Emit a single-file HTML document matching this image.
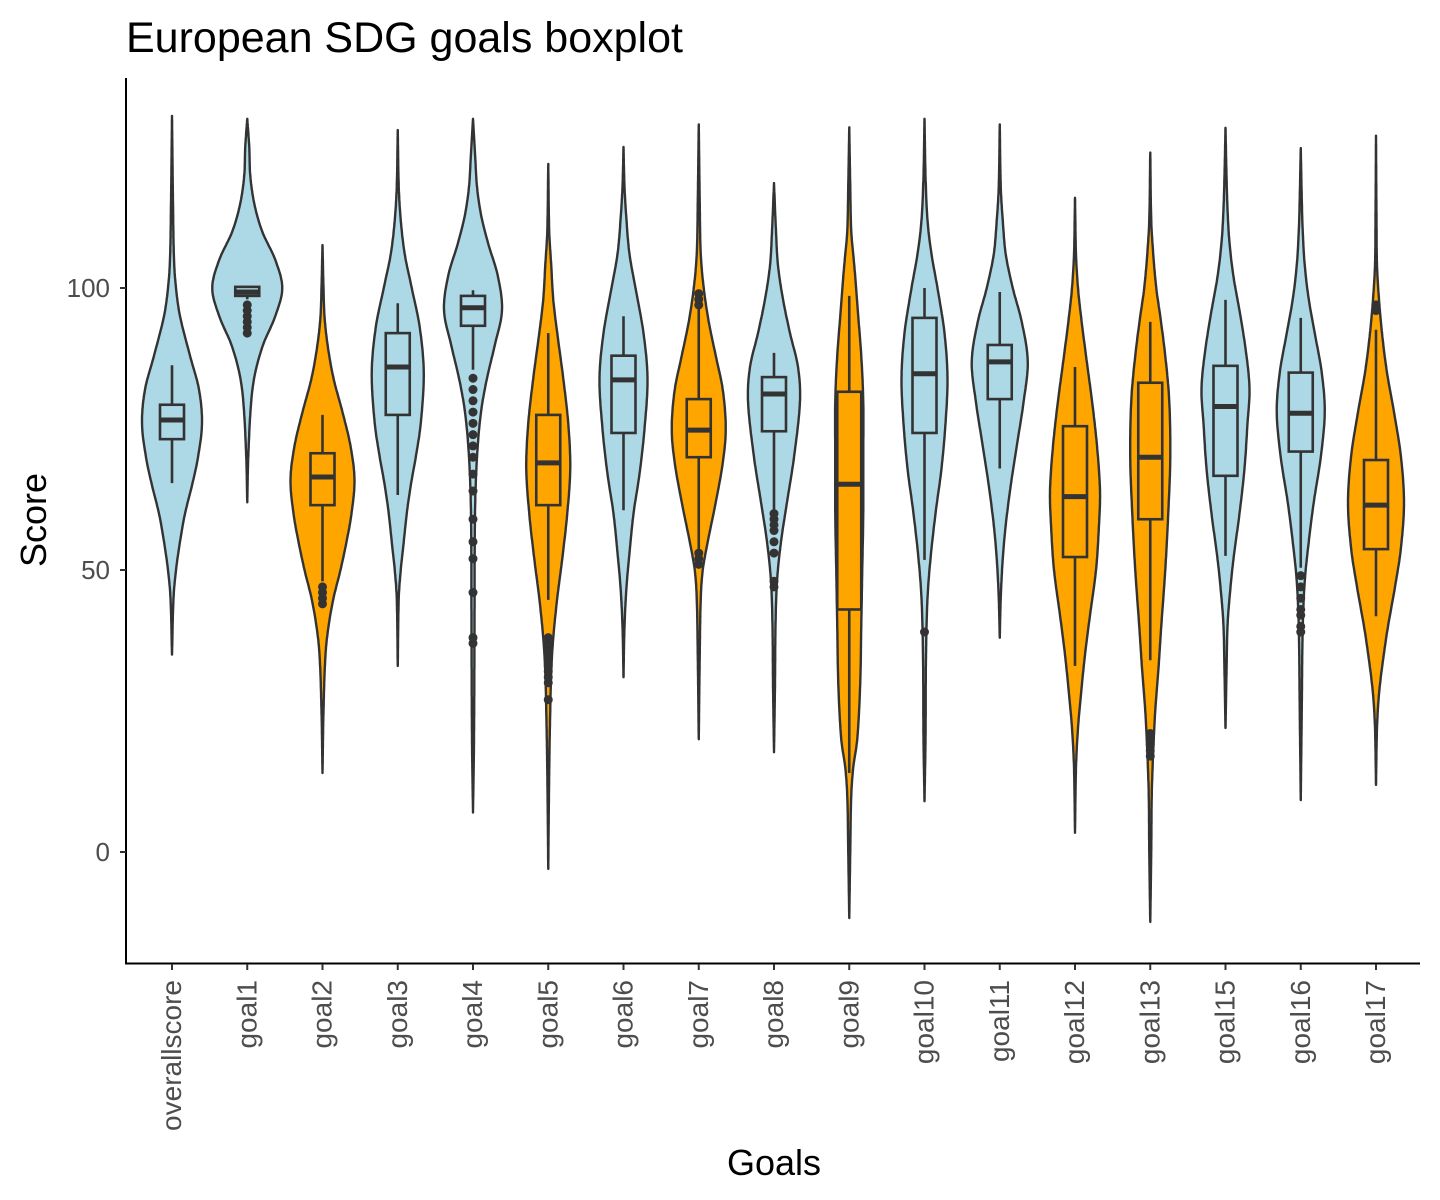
<!DOCTYPE html>
<html><head><meta charset="utf-8"><style>
body{margin:0;background:#fff;}
svg{display:block;font-family:"Liberation Sans",sans-serif;}
</style></head><body>
<svg id="chart" width="1440" height="1200">
<text x="126" y="52" font-size="43" fill="#000">European SDG goals boxplot</text>
<g id="plot"></g>
<line x1="126" y1="78" x2="126" y2="964" stroke="#000" stroke-width="2"/>
<line x1="125" y1="963.5" x2="1420" y2="963.5" stroke="#000" stroke-width="2"/>
<g id="yticks"></g>
<g id="xticks"></g>
<text transform="translate(46,520) rotate(-90)" text-anchor="middle" font-size="36" fill="#000">Score</text>
<text x="774" y="1175" text-anchor="middle" font-size="36" fill="#000">Goals</text>
</svg>
<script>
const categories=["overallscore","goal1","goal2","goal3","goal4","goal5","goal6","goal7","goal8","goal9","goal10","goal11","goal12","goal13","goal15","goal16","goal17"];
const highlight=[0,0,1,0,0,1,0,1,0,1,0,0,1,1,0,0,1];
const yTicks=[0,50,100];
// box stats: [whiskerLow, q1, median, q3, whiskerHigh]
const boxStats=[
[65.4,73.2,76.6,79.3,86.3],[98,98.6,99.3,100.2,100.4],[48,61.5,66.5,70.7,77.5],[63.3,77.5,86,92,97.3],
[85.5,93.3,96.5,98.6,99.6],[44.7,61.5,69,77.5,92],[60.6,74.3,83.7,88,95],[52.7,70,74.8,80.3,97.9],
[60.6,74.6,81.2,84.2,88.5],[14,43,65.2,81.6,98.6],[51.8,74.3,84.8,94.7,100],[68,80.3,86.9,89.9,99.3],
[33,52.3,63,75.5,86],[34,59,70,83.2,94],[52.5,66.7,79,86.2,97.9],[50.4,71,77.8,85,94.7],[41.8,53.7,61.5,69.5,92.6]];
// violin density knots: [score, relative half-width px]
const violins=[
[[35,0],[45,1.5],[50,4],[55,8],[60,13],[65,20],[70,26],[76,30],[82,27],[88,18],[95,8],[100,4],[105,2],[115,1],[130.5,0]],
[[62,0],[70,1],[80,4],[85,8],[90,16],[95,28],[100,35],[105,28],[110,15],[115,7],[120,3],[125,2],[130,0]],
[[14,0],[25,1],[35,3],[40,6],[45,11],[50,18],[55,24],[60,29],[66,32],[72,28],[78,20],[84,11],[90,5],[95,2],[100,1],[107.6,0]],
[[33,0],[45,1],[50,3],[55,6],[60,9],[65,13],[70,18],[76,23],[85,26],[93,22],[100,14],[106,7],[112,3],[118,1],[128,0]],
[[7,0],[20,1],[40,1.5],[60,2],[70,4],[78,8],[84,14],[90,22],[96,29],[102,25],[108,15],[113,8],[118,4],[124,2],[130,0]],
[[-3,0],[15,1],[25,2],[32,3],[38,5],[45,9],[52,14],[60,19],[68,22],[76,20],[84,15],[92,9],[98,5],[104,3],[110,1],[122,0]],
[[31,0],[40,1],[47,3],[53,6],[60,10],[67,16],[75,21],[84,24],[92,20],[100,12],[106,6],[112,3],[118,1],[125,0]],
[[20,0],[35,1],[45,2],[50,4],[55,9],[62,17],[69,24],[75,27],[82,24],[88,17],[94,10],[100,5],[106,2],[115,1],[129,0]],
[[17.7,0],[30,1],[40,1.5],[48,3],[55,7],[62,13],[70,20],[80,26],[86,24],[92,16],[98,9],[104,4],[110,2],[118.6,0]],
[[-11.7,0],[0,1],[10,2],[15,4],[20,8],[30,11],[40,12],[50,13],[60,14],[70,14],[80,14],[88,12],[95,9],[102,6],[106,4],[110,2],[118,1],[128.5,0]],
[[9,0],[20,1],[35,1.5],[45,3],[52,6],[60,11],[68,17],[76,21],[84,23],[92,20],[100,13],[106,7],[112,3],[120,1],[130,0]],
[[38,0],[45,1],[52,3],[58,6],[65,11],[72,17],[80,24],[87,28],[94,22],[100,13],[106,6],[112,3],[118,1],[129,0]],
[[3.4,0],[15,1],[22,3],[28,6],[35,10],[42,15],[50,21],[58,24],[64,25],[72,22],[80,17],[88,11],[95,6],[100,3],[106,1],[116,0]],
[[-12.4,0],[0,1],[10,1.5],[18,3],[25,5],[32,8],[40,11],[50,15],[60,18],[70,20],[80,19],[88,15],[95,10],[100,6],[106,3],[112,1],[124,0]],
[[22,0],[32,1],[40,2],[45,4],[52,8],[60,14],[68,19],[76,22],[82,24],[88,21],[95,15],[102,8],[108,4],[114,2],[120,1],[128.4,0]],
[[9.2,0],[25,1],[40,2],[48,4],[55,8],[62,13],[70,20],[78,24],[85,21],[92,14],[98,8],[104,4],[110,2],[116,1],[124.8,0]],
[[11.9,0],[22,1],[28,3],[34,7],[40,12],[47,19],[54,25],[62,28],[70,25],[78,18],[85,11],[92,6],[98,3],[104,1],[112,0.5],[127,0]]];
const outliers=[
[],[92,93,94,95,96,97],[44,45,46,47],[],
[37,38,46,52,55,59,64,67,70,72,74,76,78,80,82,84],[27,30,31,32,33,34,35,36,37,38],[],[51,52,53,97,98,99],
[47,48,53,55,57,58,59,60],[],[39],[],
[],[17,18,19,20,21],[],[39,40,42,43,45,47,49],[96,97]];

const ns="http://www.w3.org/2000/svg";
const yScale=s=>852-s*5.64;
const xScale=i=>172+i*75.25;
function mk(tag,attrs,parent){const e=document.createElementNS(ns,tag);for(const k in attrs)e.setAttribute(k,attrs[k]);parent.appendChild(e);return e;}
function hw(kn,s){
  for(let i=0;i<kn.length-1;i++){const a=kn[i],b=kn[i+1];
    if(s>=a[0]&&s<=b[0]){
      const p0=kn[Math.max(i-1,0)],p3=kn[Math.min(i+2,kn.length-1)];
      const h=b[0]-a[0];const t=(s-a[0])/h;
      const m1=(b[1]-p0[1])/(b[0]-p0[0]||1)*h, m2=(p3[1]-a[1])/(p3[0]-a[0]||1)*h;
      const t2=t*t,t3=t2*t;
      const v=(2*t3-3*t2+1)*a[1]+(t3-2*t2+t)*m1+(-2*t3+3*t2)*b[1]+(t3-t2)*m2;
      return Math.max(0,v);}}
  return 0;}
const plot=document.getElementById('plot');
categories.forEach((c,i)=>{
  const g=mk('g',{},plot);
  
  
  const kn=violins[i];const lo=kn[0][0],hi=kn[kn.length-1][0];const cx=xScale(i);
  const N=200;let L=[],R=[];
  for(let k=0;k<=N;k++){const s=lo+(hi-lo)*k/N;const w=hw(kn,s);R.push((cx+w).toFixed(1)+','+yScale(s).toFixed(1));L.unshift((cx-w).toFixed(1)+','+yScale(s).toFixed(1));}
  const p=mk('path',{d:'M'+R.join('L')+'L'+L.join('L')+'Z',fill:highlight[i]?'#FFA500':'#ADD8E6',stroke:'#333','stroke-width':2.4,'stroke-linejoin':'round'},g);
  
  
  const b=boxStats[i];
  const wl=mk('line',{x1:cx,x2:cx,y1:yScale(b[0]),y2:yScale(b[4]),stroke:'#333','stroke-width':2.6},g);
  
  
  const bx=mk('rect',{x:cx-12,y:yScale(b[3]),width:24,height:Math.max(yScale(b[1])-yScale(b[3]),1),fill:highlight[i]?'#FFA500':'#ADD8E6',stroke:'#333','stroke-width':2.6},g);
  
  
  const md=mk('line',{x1:cx-12,x2:cx+12,y1:yScale(b[2]),y2:yScale(b[2]),stroke:'#333','stroke-width':5},g);
  
  
  outliers[i].forEach(v=>{const o=mk('circle',{cx:cx,cy:yScale(v),r:4.5,fill:'#333'},g);
    
    });
  const xt=document.getElementById('xticks');
  mk('line',{x1:cx,x2:cx,y1:964,y2:970,stroke:'#333','stroke-width':2},xt);
  const t=mk('text',{transform:`translate(${cx+9},980) rotate(-90)`,'text-anchor':'end','font-size':28,fill:'#4d4d4d'},xt);
  
  
  t.textContent=c;
});
const yt=document.getElementById('yticks');
yTicks.forEach(v=>{const y=yScale(v);
  mk('line',{x1:120,x2:126,y1:y,y2:y,stroke:'#333','stroke-width':2},yt);
  const t=mk('text',{x:110,y:y+9,'text-anchor':'end','font-size':26,fill:'#4d4d4d'},yt);
  
  
  t.textContent=v;});
</script>
</body></html>
